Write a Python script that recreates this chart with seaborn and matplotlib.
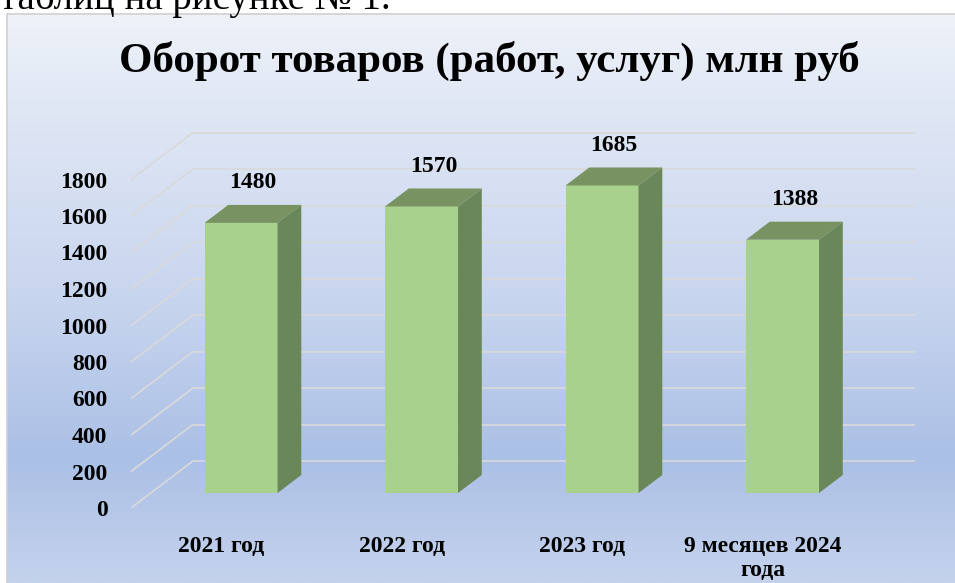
import numpy as np
import matplotlib.pyplot as plt
from matplotlib.patches import Polygon, Rectangle
from matplotlib.colors import LinearSegmentedColormap
import seaborn as sns

# data
categories = ["2021 год", "2022 год", "2023 год", "9 месяцев 2024\nгода"]
values = [1480, 1570, 1685, 1388]
yticks = [0, 200, 400, 600, 800, 1000, 1200, 1400, 1600, 1800]
title = "Оборот товаров (работ, услуг) млн руб"
doc_text = "таблиц на рисунке № 1."

sns.set_style("white")
plt.rcParams["font.family"] = ["Liberation Serif", "DejaVu Serif"]
plt.rcParams["text.color"] = "black"
plt.rcParams["xtick.color"] = "black"
plt.rcParams["ytick.color"] = "black"

front_c = "#a9d18e"
top_c = "#789361"
side_c = "#6a8759"
grid_c = "#d9d9d9"

W, H = 955, 583
fig = plt.figure(figsize=(W / 100, H / 100), dpi=100)
fig.patch.set_facecolor("white")

# gradient background of the chart area
bg = fig.add_axes([7 / W, 0, 1 - 7 / W, (H - 14) / H])
cmap = LinearSegmentedColormap.from_list(
    "bg", [(0, "#c4d2ec"), (0.22, "#abc0e6"), (0.5, "#c8d5ee"),
           (0.85, "#e1e8f5"), (1, "#eef2f9")])
bg.imshow(np.linspace(0, 1, 256).reshape(-1, 1), cmap=cmap, aspect="auto",
          origin="lower", extent=[0, 1, 0, 1])
bg.axis("off")
fig.add_artist(Rectangle((7 / W, -0.05), 1.0, (H - 14) / H + 0.05,
                         transform=fig.transFigure, fill=False,
                         edgecolor="#d0d0d0", lw=1.2))

# oblique 3d: front floor plane + depth vector
px_x = 180.5     # pixels per category
px_v = 0.1825    # pixels per value unit
DX = 62 / px_x
DY = 47 / px_v
tf, tb = 15 / 47, 33 / 47   # bar front / back depth
bw = 73 / px_x

xl = (-0.5, 3.85)
yl = (0, 2200)
rect = [131 / W, (H - 508) / H, (xl[1] - xl[0]) * px_x / W, (yl[1] - yl[0]) * px_v / H]

ax = fig.add_axes(rect, facecolor="none")
ax.set_xlim(xl)
ax.set_ylim(yl)

axw = fig.add_axes(rect, facecolor="none")
axw.set_xlim(xl[0] - DX, xl[1] - DX)
axw.set_ylim(yl[0] - DY, yl[1] - DY)
axw.axis("off")

# gridlines: side wall diagonals + back wall
axw.hlines(yticks, -0.5, len(categories) - 0.5, color=grid_c, lw=1.2)
for v in yticks:
    ax.plot([-0.5, -0.5 + DX], [v, v + DY], color=grid_c, lw=1.2)

axb = fig.add_axes(rect, facecolor="none")
sns.barplot(x=categories, y=values, ax=axb, width=bw, color=front_c,
            saturation=1, edgecolor="none")
axb.set_xlim(xl[0] - tf * DX, xl[1] - tf * DX)
axb.set_ylim(yl[0] - tf * DY, yl[1] - tf * DY)
axb.axis("off")

bdx, bdy = (tb - tf) * DX, (tb - tf) * DY
for bar, v in zip(axb.patches, values):
    x0 = bar.get_x()
    x1 = x0 + bar.get_width()
    axb.add_patch(Polygon([(x0, v), (x1, v), (x1 + bdx, v + bdy), (x0 + bdx, v + bdy)],
                          closed=True, facecolor=top_c, edgecolor="none"))
    axb.add_patch(Polygon([(x1, 0), (x1, v), (x1 + bdx, v + bdy), (x1 + bdx, bdy)],
                          closed=True, facecolor=side_c, edgecolor="none"))
    axb.text((x0 + x1) / 2 + bdx / 2, v + bdy + 65, f"{v}", ha="center", va="bottom",
             fontsize=17, fontweight="bold", color="black")

ax.set_yticks(yticks)
ax.set_yticklabels([str(t) for t in yticks], fontsize=17, fontweight="bold")
ax.set_xticks(range(len(categories)))
ax.set_xticklabels(categories, fontsize=17, fontweight="bold")
ax.tick_params(axis="y", length=0, pad=17, labelcolor="black")
ax.tick_params(axis="x", length=0, pad=20, labelcolor="black")
for s in ax.spines.values():
    s.set_visible(False)
ax.grid(False)

fig.text(489 / W, 1 - 72 / H, title, ha="center", va="baseline",
         fontsize=31, fontweight="bold", color="black")
# line of the document text above the chart, cut by the screenshot edge
fig.text(0, 1 - 9 / H, doc_text, ha="left", va="baseline", fontsize=28, color="black")

fig.savefig("out.png", dpi=100)
